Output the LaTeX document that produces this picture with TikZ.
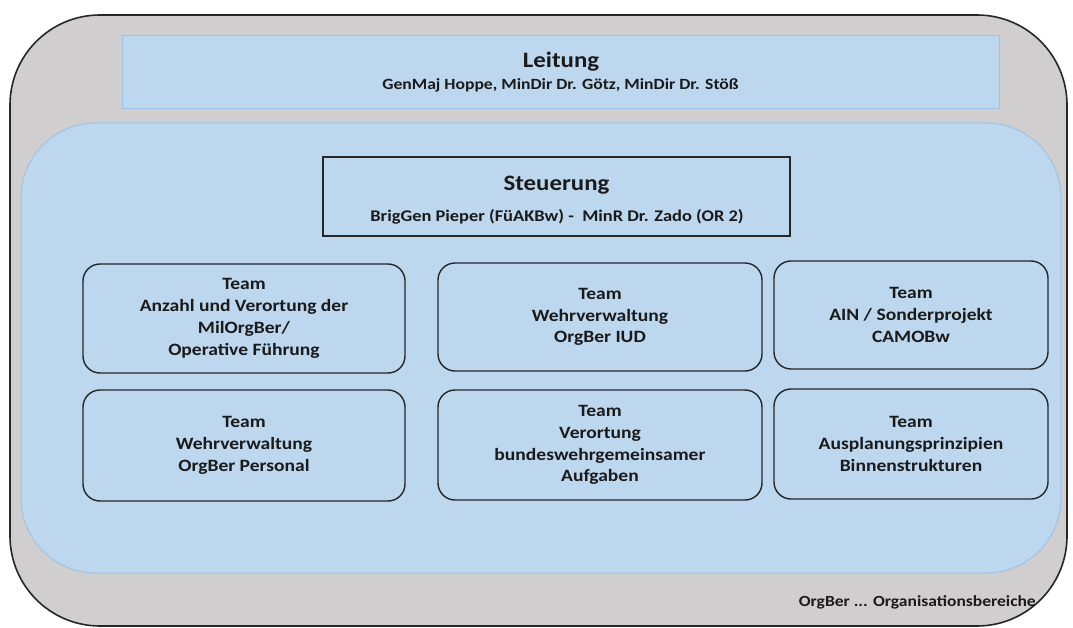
\documentclass[tikz,border=0pt]{standalone}
\usepackage{fontspec}
\setmainfont{Carlito}[FakeStretch=1.13]
\definecolor{grayfill}{HTML}{D0CECE}
\definecolor{bluefill}{HTML}{BDD7EE}
\definecolor{blueedge}{HTML}{9DC3E6}
\definecolor{txt}{HTML}{1A1A1A}
\begin{document}
\begin{tikzpicture}[x=1pt,y=-1pt,
  teambox/.style={draw=black!85, line width=1.4pt, fill=bluefill, rounded corners=17pt},
  teamtext/.style={align=center, font=\bfseries\fontsize{17.3}{21.8}\selectfont, text=txt},
  titletext/.style={anchor=base, font=\bfseries\fontsize{22}{24}\selectfont, text=txt},
  ]
\useasboundingbox (0,0) rectangle (1073,628);
% outer gray container
\draw[fill=grayfill, draw=black!85, line width=1.6pt, rounded corners=90pt] (10,15) rectangle (1067,626);
% Leitung
\node[draw=blueedge, line width=1pt, fill=bluefill, minimum width=877pt, minimum height=73pt, inner sep=0pt] (leit) at (560.5,72.5) {};
\node[titletext] (leitT) at (561,68) {Leitung};
\node[anchor=base, font=\bfseries\fontsize{15.6}{18}\selectfont, text=txt] (leitS) at (560.5,90) {GenMaj Hoppe, MinDir Dr. Götz, MinDir Dr. Stöß};
% inner blue area
\draw[fill=bluefill, draw=blueedge, line width=1pt, rounded corners=75pt] (21,123) rectangle (1061,573);
% Steuerung
\node[draw=black!85, line width=1.4pt, fill=bluefill, minimum width=467pt, minimum height=79pt, inner sep=0pt] (steu) at (556.5,196.5) {};
\node[titletext] (steuT) at (556.5,191) {Steuerung};
\node[anchor=base, font=\bfseries\fontsize{16.3}{19}\selectfont, text=txt] (steuS) at (557,222) {BrigGen Pieper (FüAKBw) -\ \ MinR Dr. Zado (OR 2)};
% teams
\path[teambox] (83,264) rectangle (405,373);
\path[teambox] (438,263) rectangle (762,371);
\path[teambox] (774,261) rectangle (1048,369);
\path[teambox] (83,390) rectangle (405,501);
\path[teambox] (438,390) rectangle (762,500);
\path[teambox] (774,389) rectangle (1048,499);
\node[teamtext] (t1) at (244,318.5) {Team\\Anzahl und Verortung der\\MilOrgBer/\\Operative Führung};
\node[teamtext] (t2) at (600,317) {Team\\Wehrverwaltung\\OrgBer IUD};
\node[teamtext] (t3) at (911,315) {Team\\AIN / Sonderprojekt\\CAMOBw};
\node[teamtext] (t4) at (244,445.5) {Team\\Wehrverwaltung\\OrgBer Personal};
\node[teamtext] (t5) at (600,445) {Team\\Verortung\\bundeswehrgemeinsamer\\Aufgaben};
\node[teamtext] (t6) at (911,444) {Team\\Ausplanungsprinzipien\\Binnenstrukturen};
% footnote
\node[anchor=base east, font=\bfseries\fontsize{15.5}{18}\selectfont, text=txt, inner sep=0pt] (note) at (1036,606) {OrgBer ... Organisationsbereiche};
\end{tikzpicture}
\end{document}
